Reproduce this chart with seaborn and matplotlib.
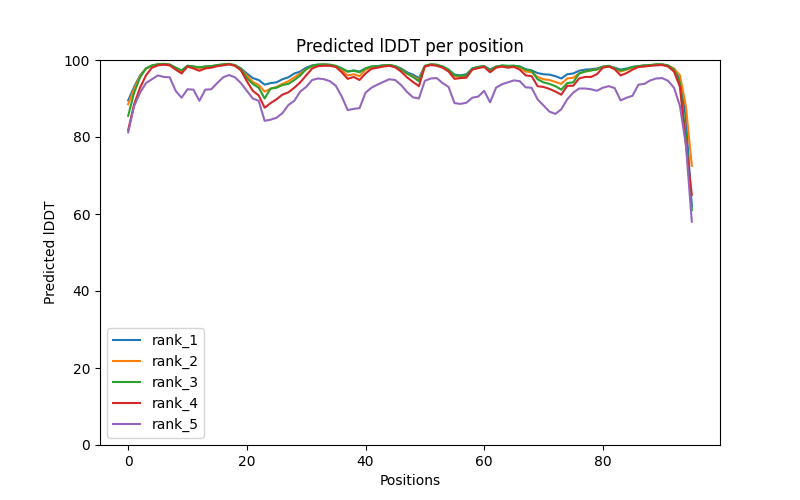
import numpy as np
import pandas as pd
import matplotlib
matplotlib.use("Agg")
import matplotlib.pyplot as plt
import seaborn as sns

# Valeurs (pLDDT par position)
rank_1 = [89.5, 93, 96, 97.8, 98.5, 98.8, 98.9, 98.8, 98.0, 97.2,
          98.5, 98.3, 98.0, 98.3, 98.4, 98.6, 98.8, 98.9, 98.6, 97.8,
          96.5, 95.3, 94.8, 93.6, 94.0, 94.2, 95.0, 95.5, 96.5, 97.0,
          98.0, 98.6, 98.8, 98.8, 98.7, 98.4, 97.8, 97.0, 97.3, 97.0,
          97.8, 98.3, 98.4, 98.6, 98.7, 98.4, 97.8, 96.8, 96.2, 95.3,
          98.4, 98.8, 98.7, 98.3, 97.5, 96.2, 96.0, 96.3, 97.8, 98.2,
          98.4, 97.5, 98.3, 98.5, 98.4, 98.5, 98.3, 97.6, 97.3, 96.6,
          96.3, 96.2, 95.8, 95.2, 96.3, 96.5, 97.2, 97.5, 97.6, 97.8,
          98.2, 98.4, 98.0, 97.5, 97.8, 98.2, 98.4, 98.6, 98.6, 98.8,
          98.8, 98.5, 97.5, 95.0, 85.0, 62.0]
rank_2 = [88.5, 92.5, 95.8, 97.8, 98.5, 98.8, 98.9, 98.8, 97.8, 97.0,
          98.4, 98.2, 97.8, 98.2, 98.3, 98.5, 98.8, 98.9, 98.5, 97.6,
          96.0, 94.3, 93.5, 91.8, 92.5, 93.0, 93.8, 94.5, 95.5, 96.5,
          97.6, 98.4, 98.7, 98.8, 98.6, 98.3, 97.3, 96.0, 96.3, 95.8,
          97.5, 98.0, 98.3, 98.5, 98.6, 98.3, 97.6, 96.5, 95.8, 94.8,
          98.4, 98.8, 98.7, 98.2, 97.3, 95.8, 95.6, 95.9, 97.6, 98.1,
          98.3, 97.2, 98.2, 98.4, 98.3, 98.4, 98.1, 97.0, 96.8, 95.6,
          95.0, 94.8, 94.3, 93.8, 95.2, 95.4, 96.5, 97.0, 97.3, 97.6,
          98.2, 98.4, 97.8, 97.0, 97.5, 98.0, 98.3, 98.5, 98.6, 98.8,
          98.8, 98.5, 97.8, 96.0, 88.0, 72.5]
rank_3 = [85.5, 91.5, 95.5, 97.8, 98.6, 98.9, 99.0, 98.8, 98.0, 97.3,
          98.5, 98.3, 98.1, 98.3, 98.4, 98.7, 98.9, 99.0, 98.7, 97.8,
          95.3, 93.8, 92.8, 90.0, 92.6, 92.8, 93.5, 93.8, 94.8, 96.0,
          97.6, 98.5, 98.8, 98.9, 98.8, 98.5, 97.8, 97.0, 97.2, 96.8,
          97.8, 98.3, 98.4, 98.6, 98.7, 98.4, 97.6, 96.5, 95.6, 94.5,
          98.5, 98.9, 98.8, 98.3, 97.5, 96.0, 95.9, 96.0, 97.8, 98.2,
          98.4, 97.4, 98.2, 98.6, 98.5, 98.5, 98.3, 97.5, 97.2, 95.0,
          94.2, 93.8, 93.2, 92.3, 94.0, 94.2, 96.5, 97.0, 97.3, 97.5,
          98.3, 98.5, 97.8, 97.3, 97.6, 98.2, 98.4, 98.6, 98.7, 98.9,
          98.9, 98.6, 97.5, 94.0, 80.0, 61.0]
rank_4 = [81.8, 88.5, 92.8, 96.0, 98.0, 98.6, 98.8, 98.6, 97.5, 96.5,
          98.3, 97.8, 97.2, 97.8, 98.0, 98.4, 98.6, 98.9, 98.5, 97.3,
          94.5, 92.0, 90.8, 87.6, 88.8, 89.8, 91.0, 91.6, 92.8, 94.2,
          96.0, 97.8, 98.4, 98.5, 98.5, 98.2, 96.8, 95.1, 95.6, 94.8,
          96.5, 97.7, 98.0, 98.3, 98.5, 98.1, 97.0, 95.5, 94.3, 93.2,
          98.3, 98.7, 98.5, 98.0, 97.0, 95.1, 95.3, 95.4, 97.5, 97.9,
          98.2, 96.8, 98.0, 98.3, 98.0, 98.2, 97.5, 96.0, 95.8, 93.2,
          93.0, 92.5, 91.8, 91.0, 93.3, 93.3, 95.2, 95.6, 95.6, 96.3,
          98.0, 98.3, 97.6, 96.0, 96.6, 97.5, 98.2, 98.3, 98.5, 98.6,
          98.7, 98.3, 97.0, 93.0, 78.0, 65.0]
rank_5 = [81.2, 88.0, 91.5, 94.0, 95.0, 96.0, 95.6, 95.5, 92.0, 90.2,
          92.4, 92.3, 89.4, 92.3, 92.4, 94.0, 95.5, 96.1, 95.5, 94.0,
          92.0, 90.0, 89.4, 84.2, 84.5, 85.0, 86.2, 88.3, 89.4, 91.8,
          93.0, 94.8, 95.2, 95.0, 94.5, 93.3, 90.5, 87.0, 87.3, 87.5,
          91.5, 92.8, 93.6, 94.3, 95.0, 94.8, 93.5, 91.7, 90.3, 90.0,
          94.6, 95.2, 95.3, 94.0, 93.0, 88.8, 88.6, 88.9, 90.2, 90.5,
          92.0, 89.0, 92.8, 93.7, 94.2, 94.7, 94.5, 92.9, 92.8, 89.8,
          88.2, 86.6, 86.0, 87.2, 89.8, 91.5, 92.6, 92.6, 92.4, 92.0,
          92.8, 93.2, 92.7, 89.5, 90.2, 90.7, 93.6, 93.8, 94.7, 95.2,
          95.3, 94.6, 92.8, 88.0, 78.0, 58.0]

ranks = {"rank_1": rank_1, "rank_2": rank_2, "rank_3": rank_3,
         "rank_4": rank_4, "rank_5": rank_5}

# Format long pour seaborn
frames = []
for nom, valeurs in ranks.items():
    frames.append(pd.DataFrame({"Positions": np.arange(len(valeurs)),
                                "plddt": valeurs, "rank": nom}))
df = pd.concat(frames, ignore_index=True)

fig, ax = plt.subplots(figsize=(8, 5), dpi=100)
sns.lineplot(data=df, x="Positions", y="plddt", hue="rank",
             palette="tab10", linewidth=1.5, ax=ax)
ax.set_ylim(0, 100)
ax.set_title("Predicted lDDT per position")
ax.set_xlabel("Positions")
ax.set_ylabel("Predicted lDDT")
ax.legend(loc="lower left")

plt.savefig("out.png", dpi=100)
